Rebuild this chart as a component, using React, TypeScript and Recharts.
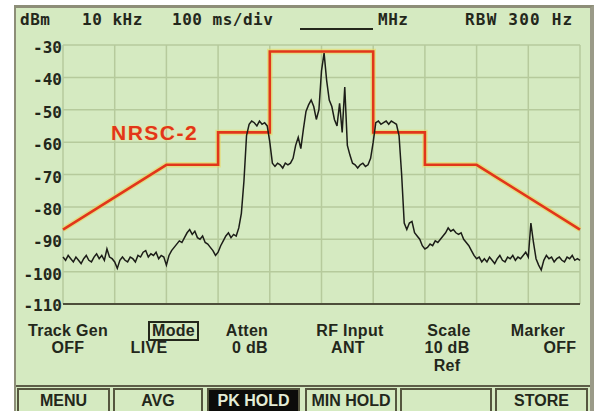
import { CartesianGrid, Line, LineChart, ReferenceLine, XAxis, YAxis } from "recharts";

// Spectrum trace, dBm, one reading every 0.5 kHz from -50 kHz to +50 kHz around centre
const FREQ_START = -50;
const FREQ_STEP = 0.5;
const traceDbm = [
  // -50 .. -30 kHz : noise floor
  -95.5, -96.5, -95, -96, -97, -95.5, -96.5, -97.5, -96, -95,
  -96.5, -97, -95.5, -94.5, -96, -95, -96.5, -93, -95.5, -96,
  -97, -99, -96.5, -95.5, -96.5, -97, -95.5, -96, -97, -95,
  -95.5, -94, -93.5, -95.5, -94.5, -95, -94, -96, -95, -95.5,
  -98,
  // -29.5 .. -14.5 kHz : lower skirt
  -95, -93.5, -92.5, -91.5, -90.5, -91, -89.5, -88, -87, -88.5,
  -87.5, -89.5, -90, -89, -91, -91.5, -92.5, -93.5, -95, -94,
  -92, -90.5, -89, -88, -89.5, -88.5, -89, -86.5, -82, -72,
  -58,
  // -14 .. -10.5 kHz : lower digital sideband
  -54.5, -53.5, -54, -55, -53.5, -54.5, -54, -55,
  -60, -66.5,
  // -9 .. -6.5 kHz
  -67.5, -66.5, -67, -68, -66.5, -67,
  // -6 .. +50 kHz
  -66.5, -65, -61, -58.5, -62, -56, -50.5, -48.5, -47, -49,
  -53, -50, -38, -32.5, -41, -47, -49, -53, -55, -48,
  -57, -43, -61, -64, -66.5, -67, -68, -67, -66.5, -67.5,
  -67, -65, -60, -54, -53.5, -54.5, -54, -53.5, -54.5, -53.5,
  -54, -54.5, -58, -70, -85, -87, -85, -84.5, -88, -89,
  -90, -92, -93, -92.5, -91.5, -92, -90.5, -91, -90, -89,
  -88, -86.5, -87.5, -87, -88, -88.5, -88, -90, -91, -92,
  -93.5, -95, -96, -95.5, -97, -96, -97, -95.5, -96.5, -97.5,
  -96, -95, -96.5, -97, -95.5, -96, -95, -96.5, -95.5, -96,
  -95, -94, -95.5, -85, -91, -96, -98, -99.5, -96.5, -95,
  -96, -95.5, -97, -96, -95.5, -96.5, -97, -95.5, -96, -95,
  -96.5, -96, -96.5,
];

// NRSC-2 emission mask
const maskFreq = [-50, -30, -20, -20, -10, -10, 10, 10, 20, 20, 30, 50];
const maskDbm = [-87, -67, -67, -57, -57, -32, -32, -57, -57, -67, -67, -87];

const yTicks = [-110, -100, -90, -80, -70, -60, -50, -40, -30];
const xTicks = [-50, -40, -30, -20, -10, 0, 10, 20, 30, 40, 50];

const softKeyNames = ["Track Gen", "Mode", "Atten", "RF Input", "Scale", "Marker"];
const softKeyValues = ["OFF", "LIVE", "0 dB", "ANT", "10 dB", "OFF"];
const buttonLabels = ["MENU", "AVG", "PK HOLD", "MIN HOLD", "", "STORE"];

const traceData = traceDbm.map((v, i) => ({ f: FREQ_START + i * FREQ_STEP, dbm: v }));
const maskData = maskFreq.map((f, i) => ({ f, mask: maskDbm[i] }));

const SCREEN = "#d5eac1";
const INK = "#23271b";
const GRID = "#b6ca9c";
const MASK = "#e2361a";
const MONO = "'DejaVu Sans Mono', monospace";
const SANS = "'Liberation Sans', Arial, sans-serif";

function DbTick({ x, y, payload }: any) {
  return (
    <text
      x={x}
      y={y}
      dy={payload.value === -110 ? 7 : 8}
      textAnchor="end"
      fill={INK}
      fontFamily={MONO}
      fontWeight="bold"
      fontSize={16}
    >
      {payload.value}
    </text>
  );
}

const mono = (left: number, text: string, extra: object = {}) => (
  <div
    style={{
      position: "absolute",
      left,
      top: 10,
      fontFamily: MONO,
      fontWeight: "bold",
      fontSize: 16,
      letterSpacing: 0.5,
      lineHeight: "20px",
      color: INK,
      whiteSpace: "pre",
      ...extra,
    }}
  >
    {text}
  </div>
);

const sans = (cx: number, top: number, text: string, extra: object = {}) => (
  <div
    style={{
      position: "absolute",
      left: cx - 60,
      width: 120,
      top,
      textAlign: "center",
      fontFamily: SANS,
      fontWeight: "bold",
      fontSize: 16,
      letterSpacing: 0.3,
      lineHeight: "16px",
      color: INK,
      ...extra,
    }}
  >
    {text}
  </div>
);

const keyNameX = [68, 172, 247, 350, 449, 538];
const keyValueX = [68, 149, 250, 348, 447, 560];
const buttonX = [17, 113, 207, 305, 400, 495];
const buttonW = [93, 90, 93, 92, 92, 93];

export default function App() {
  return (
    <div
      style={{
        position: "absolute",
        left: 0,
        top: 0,
        width: 595,
        height: 411,
        background: "#ffffff",
        overflow: "hidden",
      }}
    >
      {/* LCD panel */}
      <div
        style={{
          position: "absolute",
          left: 14,
          top: 5,
          width: 574,
          height: 410,
          background: SCREEN,
          borderLeft: "2px solid #8d8e78",
          borderTop: "3px solid #8d8e78",
          borderRight: "4px solid #9a9a88",
        }}
      />

      {mono(20, "dBm")}
      {mono(82, "10 kHz")}
      {mono(172, "100 ms/div")}
      <div style={{ position: "absolute", left: 300, top: 28, width: 73, height: 2, background: INK }} />
      {mono(378, "MHz")}
      {mono(465, "RBW 300 Hz", { letterSpacing: 1.2 })}

      <div style={{ position: "absolute", left: 0, top: 0 }}>
        <LineChart
          width={595}
          height={411}
          data={traceData}
          margin={{ top: 45, right: 15, bottom: 107, left: 0 }}
        >
          <CartesianGrid stroke={GRID} strokeWidth={1.5} />
          <XAxis dataKey="f" type="number" domain={[-50, 50]} ticks={xTicks} hide />
          <YAxis
            type="number"
            domain={[-110, -30]}
            ticks={yTicks}
            width={63}
            axisLine={false}
            tickLine={false}
            tickSize={0}
            tickMargin={1}
            tick={<DbTick />}
            interval={0}
          />
          <ReferenceLine y={-110} stroke="#4d4e3a" strokeWidth={2} />
          <Line
            data={maskData}
            dataKey="mask"
            type="linear"
            stroke="#ecd655"
            strokeOpacity={0.55}
            strokeWidth={5.5}
            dot={false}
            activeDot={false}
            isAnimationActive={false}
          />
          <Line
            data={maskData}
            dataKey="mask"
            type="linear"
            stroke={MASK}
            strokeWidth={2.6}
            dot={false}
            activeDot={false}
            isAnimationActive={false}
          />
          <Line
            dataKey="dbm"
            type="linear"
            stroke="#1c1d18"
            strokeWidth={1.5}
            dot={false}
            activeDot={false}
            isAnimationActive={false}
          />
        </LineChart>
      </div>

      <div
        style={{
          position: "absolute",
          left: 111,
          top: 121,
          fontFamily: SANS,
          fontWeight: "bold",
          fontSize: 21,
          letterSpacing: 1.5,
          color: MASK,
          textShadow: "0 0 2px #f3e27a",
        }}
      >
        NRSC-2
      </div>

      {softKeyNames.map((n, i) =>
        sans(
          keyNameX[i],
          323,
          n,
          i === 1
            ? { width: "auto", left: 148, padding: "0 2px", border: `2px solid ${INK}`, top: 321 }
            : {}
        )
      )}
      {softKeyValues.map((v, i) => sans(keyValueX[i], 340, v))}
      {sans(447, 358, "Ref")}

      <div style={{ position: "absolute", left: 16, top: 385, width: 574, height: 2, background: "#5d5e48" }} />
      {buttonLabels.map((b, i) => (
        <div
          key={i}
          style={{
            position: "absolute",
            left: buttonX[i],
            top: 388,
            width: buttonW[i] - 4,
            height: 24,
            border: "2px solid #55563f",
            background: b === "PK HOLD" ? "#0c0c0a" : "transparent",
            color: b === "PK HOLD" ? "#e4ecd6" : INK,
            fontFamily: SANS,
            fontWeight: "bold",
            fontSize: 16,
            lineHeight: "21px",
            textAlign: "center",
          }}
        >
          {b}
        </div>
      ))}
    </div>
  );
}
